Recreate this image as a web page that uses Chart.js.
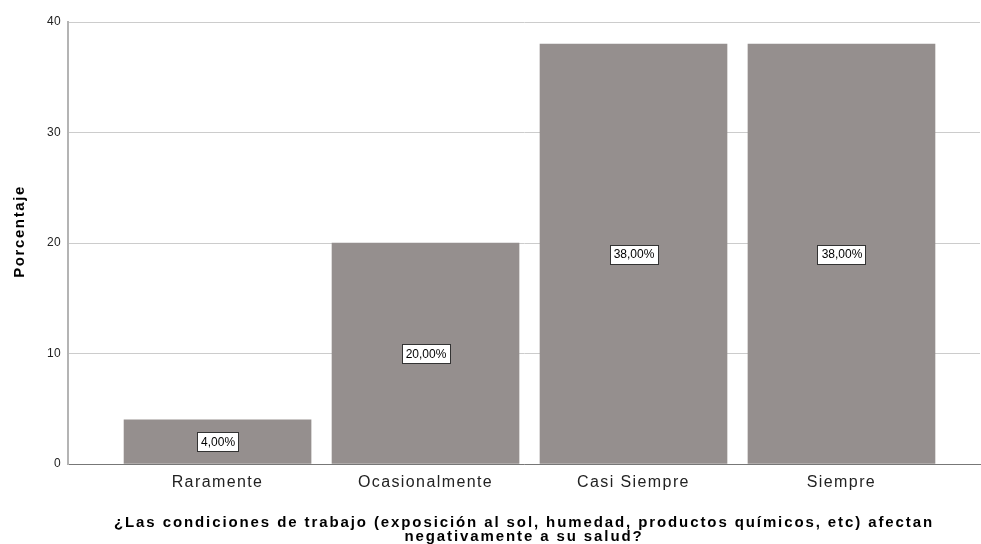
<!DOCTYPE html>
<html><head><meta charset="utf-8">
<script src="https://cdn.jsdelivr.net/npm/chart.js@4/dist/chart.umd.min.js"></script>
<style>html,body{margin:0;padding:0;background:#fff}#wrap{width:981px;height:544px}</style>
</head><body><div id="wrap"><canvas id="c" width="981" height="544"></canvas></div>
<script>
const categories = ['Raramente', 'Ocasionalmente', 'Casi Siempre', 'Siempre'];
const percentages = [4, 20, 38, 38];
const yTicks = [0, 10, 20, 30, 40];
const xTitle = ['¿Las condiciones de trabajo (exposición al sol, humedad, productos químicos, etc) afectan', 'negativamente a su salud?'];
const yTitle = 'Porcentaje';

const FONT = "'Liberation Sans', Arial, sans-serif";

// letter spacing per scale part (SPSS-like wide text)
const spacing = { x: { labels: '1.4px', title: '1.9px' }, y: { labels: '0.3px', title: '1.6px' } };

const spacingPlugin = {
  id: 'spacing',
  beforeDraw(chart) {
    ['x', 'y'].forEach(id => {
      const s = chart.scales[id];
      if (!s || s._spPatched) return;
      s._spPatched = true;
      const ol = s.drawLabels, ot = s.drawTitle;
      s.drawLabels = function (a) { const c = this.ctx; c.save(); c.letterSpacing = spacing[id].labels; ol.call(this, a); c.restore(); };
      s.drawTitle = function (a) { const c = this.ctx; c.save(); c.letterSpacing = spacing[id].title; ot.call(this, a); c.restore(); };
    });
  }
};

const labelPlugin = {
  id: 'boxLabels',
  afterDatasetsDraw(chart) {
    const ctx = chart.ctx;
    const meta = chart.getDatasetMeta(0);
    const ys = chart.scales.y;
    ctx.save();
    ctx.font = '12px ' + FONT;
    ctx.textAlign = 'center';
    ctx.textBaseline = 'middle';
    meta.data.forEach((bar, i) => {
      const v = percentages[i];
      const txt = v.toFixed(2).replace('.', ',') + '%';
      const y = ys.getPixelForValue(v / 2);
      const w = Math.round(ctx.measureText(txt).width + 7);
      const h = 19;
      const x0 = Math.round(bar.x - w / 2) + 0.5;
      const y0 = Math.round(y - h / 2) + 0.5;
      ctx.fillStyle = '#fff';
      ctx.fillRect(x0, y0, w, h);
      ctx.strokeStyle = '#333';
      ctx.lineWidth = 1;
      ctx.strokeRect(x0, y0, w, h);
      ctx.fillStyle = '#000';
      ctx.fillText(txt, bar.x + 0.5, y + 1);
    });
    ctx.restore();
  }
};

new Chart(document.getElementById('c'), {
  type: 'bar',
  data: {
    datasets: [{
      data: categories.map((c, i) => ({ x: i, y: percentages[i] })),
      backgroundColor: '#958f8e',
      borderWidth: 0,
      barThickness: 187
    }]
  },
  options: {
    responsive: false,
    animation: false,
    devicePixelRatio: 1,
    layout: { padding: { top: 22, right: 1, left: 0, bottom: 0 } },
    plugins: { legend: { display: false }, tooltip: { enabled: false } },
    scales: {
      x: {
        type: 'linear',
        bounds: 'data',
        offset: false,
        min: -0.719,
        max: 3.666,
        grid: { display: false, drawTicks: false, offset: false },
        border: { display: true, color: '#777', width: 1 },
        afterBuildTicks(scale) {
          scale.ticks = categories.map((c, i) => ({ value: i }));
        },
        afterFit(scale) { scale.height = 80; },
        ticks: {
          autoSkip: false,
          maxRotation: 0,
          padding: 9,
          color: '#222',
          font: { family: FONT, size: 16 },
          callback: (v) => categories[v]
        },
        title: {
          display: true,
          text: xTitle,
          color: '#000',
          font: { family: FONT, size: 15, weight: 'bold', lineHeight: 0.95 },
          padding: { top: 14, bottom: 0 }
        }
      },
      y: {
        min: 0,
        max: 40,
        afterBuildTicks(scale) {
          scale.ticks = yTicks.map(v => ({ value: v }));
        },
        afterFit(scale) { scale.width = 68; },
        grid: { color: '#cccccc', lineWidth: 1, drawTicks: false },
        border: { display: true, color: '#b4b4b4', width: 2 },
        ticks: {
          padding: 7,
          color: '#222',
          font: { family: FONT, size: 12 }
        },
        title: {
          display: true,
          text: '\u00a0\u00a0\u00a0\u00a0' + yTitle,
          color: '#000',
          font: { family: FONT, size: 15, weight: 'bold' },
          padding: { top: 11, bottom: 0 }
        }
      }
    }
  },
  plugins: [spacingPlugin, labelPlugin]
});
</script>
</body></html>
